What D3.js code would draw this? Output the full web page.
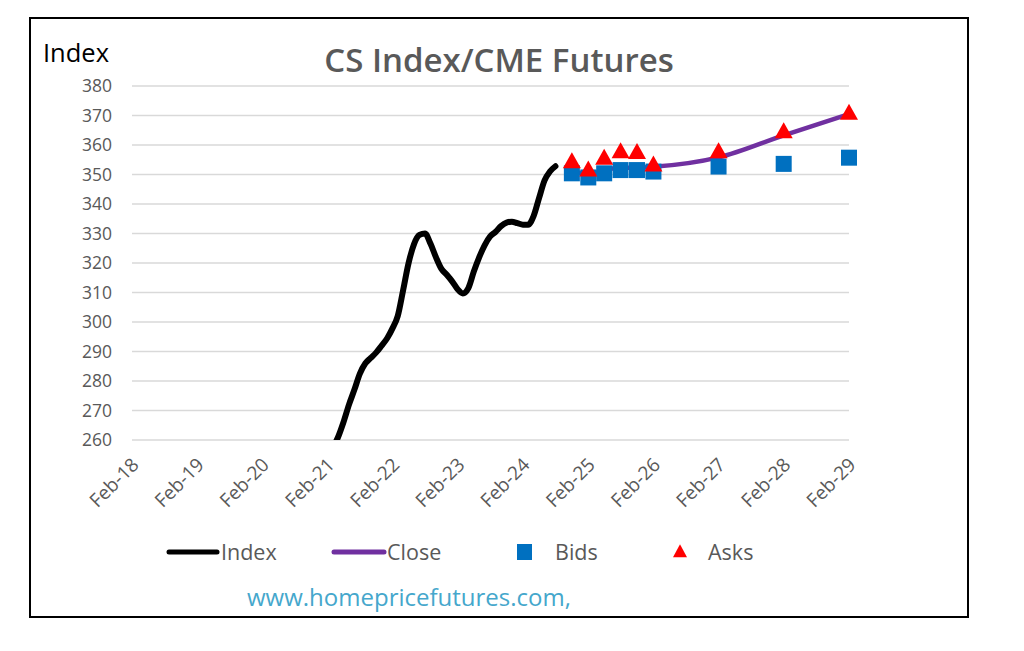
<!DOCTYPE html>
<html>
<head>
<meta charset="utf-8">
<script src="https://cdn.jsdelivr.net/npm/d3@7"></script>
<style>
  html, body { margin: 0; padding: 0; background: #fff; }
  svg { display: block; }
</style>
</head>
<body>
<svg id="chart" width="1024" height="651"></svg>
<script>
// CS Index (monthly) — only the part above the axis minimum is visible
const indexMonths = [
  "2021-01","2021-02","2021-03","2021-04","2021-05","2021-06","2021-07","2021-08","2021-09","2021-10","2021-11","2021-12",
  "2022-01","2022-02","2022-03","2022-04","2022-05","2022-06","2022-07","2022-08","2022-09","2022-10","2022-11","2022-12",
  "2023-01","2023-02","2023-03","2023-04","2023-05","2023-06","2023-07","2023-08","2023-09","2023-10","2023-11","2023-12",
  "2024-01","2024-02","2024-03","2024-04","2024-05","2024-06","2024-07","2024-08"
];
const indexValues = [
  253, 255.5, 257.5, 261, 266, 272, 277, 282.5, 286, 287.8, 289.7, 292,
  294.5, 298, 302, 311, 320, 326.5, 329.5, 330, 326.5, 322, 318, 316,
  313.7, 311, 309.7, 311.5, 317, 322, 326, 329, 330.6, 332.5, 333.7, 334,
  333.5, 333, 333, 336, 342, 348, 351, 352.8
];

// CME futures contracts
const contractMonths = ["2024-11","2025-02","2025-05","2025-08","2025-11","2026-02","2027-02","2028-02","2029-02"];
const closeValues = [351.5, 350, 351.5, 352.3, 352.3, 352.6, 355.8, 363.3, 370.5];
const bidValues   = [350.4, 349.0, 350.4, 351.5, 351.5, 351.0, 352.7, 353.6, 355.7];
const askValues   = [354.3, 351.5, 355.5, 357.7, 357.4, 353.2, 357.7, 364.5, 370.7];

const yTicks = [260, 270, 280, 290, 300, 310, 320, 330, 340, 350, 360, 370, 380];
const xTickYears = [2018, 2019, 2020, 2021, 2022, 2023, 2024, 2025, 2026, 2027, 2028, 2029];

const parseMonth = d3.timeParse("%Y-%m");
const fmtTick = d3.timeFormat("%b-%y");

const FONT = "'Open Sans', Lato, sans-serif";
const GREY = "#595959";

const svg = d3.select("#chart");
svg.append("rect").attr("width", 1024).attr("height", 651).attr("fill", "#fff");

// outer frame
svg.append("rect")
  .attr("x", 30).attr("y", 18).attr("width", 938).attr("height", 599)
  .attr("fill", "none").attr("stroke", "#000").attr("stroke-width", 2);

const plot = { left: 132, right: 849, top: 86, bottom: 440 };

const x = d3.scaleTime()
  .domain([new Date(2018, 1, 1), new Date(2029, 1, 1)])
  .range([plot.left, plot.right]);
const y = d3.scaleLinear()
  .domain([260, 380])
  .range([plot.bottom, plot.top]);

// gridlines
svg.append("g")
  .selectAll("line")
  .data(yTicks)
  .enter().append("line")
  .attr("x1", plot.left).attr("x2", plot.right)
  .attr("y1", d => y(d)).attr("y2", d => y(d))
  .attr("stroke", "#d9d9d9").attr("stroke-width", 1.5);

// y labels
svg.append("g")
  .selectAll("text")
  .data(yTicks)
  .enter().append("text")
  .attr("x", 112).attr("y", d => y(d))
  .attr("dy", "0.35em")
  .attr("text-anchor", "end")
  .attr("fill", GREY)
  .style("font-family", FONT).style("font-size", "17.5px")
  .text(d => d);

// x labels, rotated
const xTickDates = xTickYears.map(yr => new Date(yr, 1, 1));
svg.append("g")
  .selectAll("text")
  .data(xTickDates)
  .enter().append("text")
  .attr("transform", d => `translate(${x(d) + 8},${466}) rotate(-45)`)
  .attr("text-anchor", "end")
  .attr("fill", GREY)
  .style("font-family", FONT).style("font-size", "19px")
  .text(d => fmtTick(d));

// clip to plot area
svg.append("clipPath").attr("id", "plotClip")
  .append("rect")
  .attr("x", plot.left).attr("y", plot.top - 20)
  .attr("width", plot.right - plot.left + 20)
  .attr("height", plot.bottom - plot.top + 20);

const indexData = indexMonths.map((m, i) => ({ date: parseMonth(m), value: indexValues[i] }));
const futures = contractMonths.map((m, i) => ({
  date: parseMonth(m), close: closeValues[i], bid: bidValues[i], ask: askValues[i]
}));

const lineIndex = d3.line()
  .x(d => x(d.date)).y(d => y(d.value))
  .curve(d3.curveMonotoneX);
const lineClose = d3.line()
  .x(d => x(d.date)).y(d => y(d.close))
  .curve(d3.curveMonotoneX);

const g = svg.append("g").attr("clip-path", "url(#plotClip)");

g.append("path")
  .datum(indexData)
  .attr("d", lineIndex)
  .attr("fill", "none")
  .attr("stroke", "#000")
  .attr("stroke-width", 6)
  .attr("stroke-linecap", "round")
  .attr("stroke-linejoin", "round");

g.append("path")
  .datum(futures)
  .attr("d", lineClose)
  .attr("fill", "none")
  .attr("stroke", "#7030a0")
  .attr("stroke-width", 4.5)
  .attr("stroke-linecap", "round");

// bids
g.append("g")
  .selectAll("rect")
  .data(futures)
  .enter().append("rect")
  .attr("x", d => x(d.date) - 8)
  .attr("y", d => y(d.bid) - 8)
  .attr("width", 16).attr("height", 16)
  .attr("fill", "#0070c0");

// asks
const triangle = (cx, cy, w, h) =>
  `M${cx},${cy - h * 0.6}L${cx + w / 2},${cy + h * 0.4}L${cx - w / 2},${cy + h * 0.4}Z`;

g.append("g")
  .selectAll("path")
  .data(futures)
  .enter().append("path")
  .attr("d", d => triangle(x(d.date), y(d.ask), 18, 16))
  .attr("fill", "#ff0000");

// title
svg.append("text")
  .attr("x", 499).attr("y", 72)
  .attr("text-anchor", "middle")
  .attr("fill", GREY)
  .style("font-family", FONT).style("font-size", "33px").style("font-weight", "600")
  .text("CS Index/CME Futures");

svg.append("text")
  .attr("x", 43).attr("y", 62)
  .attr("fill", "#000")
  .style("font-family", FONT).style("font-size", "25.5px")
  .text("Index");

// legend
const legY = 552;
const leg = svg.append("g")
  .style("font-family", FONT).style("font-size", "21.5px").attr("fill", GREY);

leg.append("line").attr("x1", 169).attr("x2", 217).attr("y1", legY).attr("y2", legY)
  .attr("stroke", "#000").attr("stroke-width", 5).attr("stroke-linecap", "round");
leg.append("text").attr("x", 221).attr("y", legY).attr("dy", "0.35em").text("Index");

leg.append("line").attr("x1", 334).attr("x2", 384).attr("y1", legY).attr("y2", legY)
  .attr("stroke", "#7030a0").attr("stroke-width", 5).attr("stroke-linecap", "round");
leg.append("text").attr("x", 387).attr("y", legY).attr("dy", "0.35em").text("Close");

leg.append("rect").attr("x", 517).attr("y", legY - 8).attr("width", 15).attr("height", 16)
  .attr("fill", "#0070c0");
leg.append("text").attr("x", 555).attr("y", legY).attr("dy", "0.35em").text("Bids");

leg.append("path").attr("d", triangle(680, legY, 14, 13)).attr("fill", "#ff0000");
leg.append("text").attr("x", 708).attr("y", legY).attr("dy", "0.35em").text("Asks");

// source
svg.append("text")
  .attr("x", 247).attr("y", 606)
  .attr("fill", "#45a7cc")
  .style("font-family", FONT).style("font-size", "24px")
  .text("www.homepricefutures.com,");
</script>
</body>
</html>
